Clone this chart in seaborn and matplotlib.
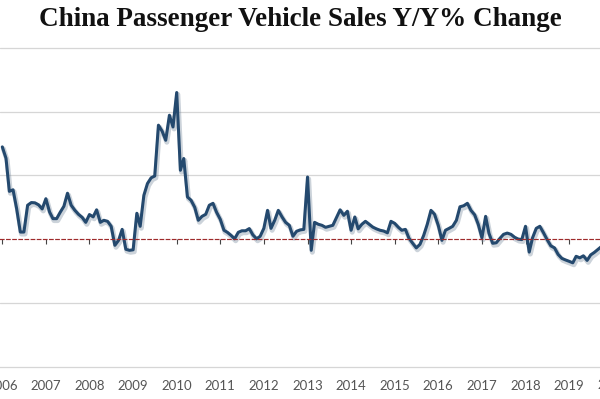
import matplotlib
matplotlib.use("Agg")
import numpy as np
import pandas as pd
import matplotlib.pyplot as plt
import matplotlib.dates as mdates
import matplotlib.patheffects as pe
import matplotlib.transforms as mtransforms
import seaborn as sns

# ---- data (monthly Y/Y % change) ----
start_month = "2006-01-01"
yoy_change = [
    72.4, 63.5, 37.6, 38.8, 24.1, 5.7, 5.7, 26.7, 28.8, 28.6, 27.0, 23.8,      # 2006
    31.8, 21.4, 16.2, 16.2, 21.2, 25.9, 36.1, 26.7, 22.7, 19.6, 17.2, 13.3,    # 2007
    19.4, 17.6, 23.1, 13.3, 14.9, 14.1, 10.2, -4.7, -0.8, 7.8, -7.8, -8.6,     # 2008
    -8.2, 20.4, 10.2, 34.5, 43.7, 48.2, 49.6, 89.4, 84.7, 77.6, 97.2, 88.0,    # 2009
    115.0, 54.1, 63.3, 33.2, 30.6, 25.1, 14.9, 18.0, 19.6, 26.7, 28.2, 21.2,   # 2010
    15.7, 7.1, 5.5, 3.1, 0.4, 5.5, 6.7, 6.7, 8.4, 3.5, 0.4, 2.4,               # 2011
    8.6, 22.7, 8.6, 14.9, 22.7, 17.6, 13.3, 11.0, 2.4, 6.3, 7.4, 7.8,          # 2012
    48.8, -8.6, 13.3, 11.8, 11.0, 9.4, 10.2, 11.0, 17.2, 23.1, 18.8, 22.0,     # 2013
    7.1, 17.5, 8.2, 11.8, 14.1, 11.8, 9.6, 8.2, 7.1, 6.5, 5.1, 14.1,           # 2014
    12.5, 9.4, 7.1, 7.8, 0.8, -3.1, -6.7, -3.9, 3.1, 11.8, 22.7, 19.6,         # 2015
    11.0, -0.8, 7.1, 8.6, 10.2, 14.9, 25.5, 26.3, 28.2, 22.7, 19.2, 11.8,      # 2016
    1.2, 18.0, 4.7, -3.1, -2.7, 0.8, 3.9, 4.9, 3.9, 1.6, 0.2, -0.2,            # 2017
    10.2, -10.0, 1.2, 8.6, 10.2, 5.1, -0.2, -5.1, -6.7, -11.8, -14.9, -16.1,   # 2018
    -17.2, -18.4, -13.3, -14.5, -12.9, -16.5, -12.2, -10.2, -7.8, -5.5,        # 2019
]
years = list(range(2006, 2021))
year_labels = [str(y) for y in years]
grid_values = [-50, 50, 100, 150]
title = "China Passenger Vehicle Sales Y/Y% Change"

dates = pd.date_range(start_month, periods=len(yoy_change), freq="MS")
df = pd.DataFrame({"date": dates, "yoy": yoy_change})

sns.set_style("white")
plt.rcParams["font.family"] = ["Lato", "DejaVu Sans"]

fig = plt.figure(figsize=(6, 3.99), dpi=100)
ax = fig.add_axes([0, 32 / 399, 1, 323 / 399])

sns.lineplot(data=df, x="date", y="yoy", ax=ax, color="#24496e", linewidth=2.2)
line = ax.lines[0]
line.set_path_effects([
    pe.SimpleLineShadow(offset=(0.8, -1.4), shadow_color="#6d8197", alpha=0.35, linewidth=3.6),
    pe.Normal(),
])

year_ticks = mdates.date2num(pd.to_datetime([f"{y}-01-01" for y in years]))
x0 = mdates.date2num(pd.Timestamp("2006-01-01")) - 19.3
x1 = x0 + 600 / 43.6 * 365.25
visible = [(t, l) for t, l in zip(year_ticks, year_labels) if x0 <= t <= x1]
hidden = [(t, l) for t, l in zip(year_ticks, year_labels) if t > x1]

# y gridlines only
ax.set_yticks(grid_values)
ax.yaxis.grid(True, color="#d6d6d6", linewidth=0.9)
ax.tick_params(axis="y", left=False, labelleft=False)
ax.set_xlabel("")
ax.set_ylabel("")

for s in ["left", "right", "top"]:
    ax.spines[s].set_visible(False)

# zero line as dashed spine with small ticks
ax.spines["bottom"].set_position(("data", 0))
ax.spines["bottom"].set_color("#9e2a2b")
ax.spines["bottom"].set_linewidth(0.85)
ax.spines["bottom"].set_linestyle((0, (3, 2.2)))
ax.set_xticks([t for t, _ in visible])
ax.tick_params(axis="x", direction="out", length=3.5, width=0.8, color="#444444",
               labelbottom=False, bottom=True)

# labels at the bottom
sec = ax.secondary_xaxis(0.0)
sec.set_xticks([t for t, _ in visible], labels=[l for _, l in visible])
sec.tick_params(length=0, labelsize=9.5, labelcolor="#555555", pad=9)
sec.spines["bottom"].set_color("#d6d6d6")
sec.spines["bottom"].set_linewidth(0.9)

ax.set_xlim(x0, x1)
ax.set_ylim(-100, 153)

# year label beyond the right edge (only partly visible, as in the source)
trans = mtransforms.blended_transform_factory(ax.transData, fig.transFigure)
for t, l in hidden:
    ax.text(t, 1 - 385 / 399, l, transform=trans, ha="center", va="center",
            fontsize=9.5, color="#555555", clip_on=False)

fig.text(0.5, 1 - 19 / 399, title, ha="center", va="center", fontsize=19.5,
         fontweight="bold", family=["Liberation Serif", "DejaVu Serif"], color="#111111")

fig.savefig("out.png", dpi=100, facecolor="white")
